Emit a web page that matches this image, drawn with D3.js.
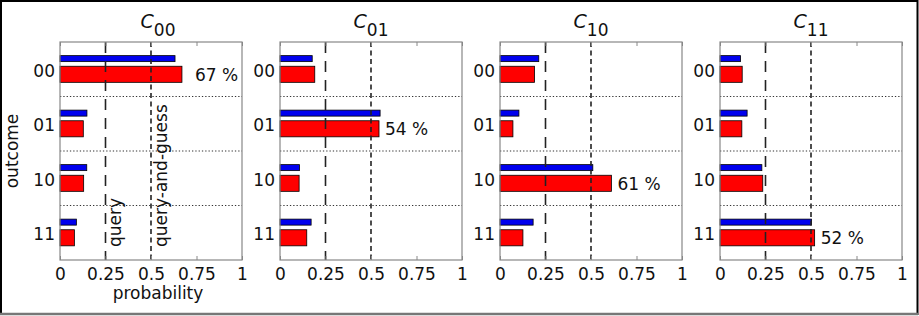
<!DOCTYPE html>
<meta charset="utf-8">
<style>

body {
  margin: 0;
  font-family: "DejaVu Sans", sans-serif;
}

.tick line {
  stroke: #888;
}

text {
  fill: #111;
}

</style>
<body>
<script src="https://d3js.org/d3.v7.js"></script>
<script>

var panels = ["00", "01", "10", "11"];

var outcomes = ["00", "01", "10", "11"];

// blue bars, one row per panel, one value per outcome
var blueValues = [
  [0.632, 0.148, 0.147, 0.090],
  [0.177, 0.550, 0.107, 0.171],
  [0.213, 0.104, 0.510, 0.182],
  [0.113, 0.149, 0.230, 0.503]
];

// red bars
var redValues = [
  [0.670, 0.128, 0.130, 0.079],
  [0.191, 0.544, 0.105, 0.147],
  [0.190, 0.071, 0.612, 0.126],
  [0.122, 0.120, 0.235, 0.520]
];

var xTicks = [0, 0.25, 0.5, 0.75, 1];

var width = 919,
    height = 316;

var plotTop = 42, plotBottom = 260, panelWidth = 182, panelStep = 220, firstLeft = 60;

var svg = d3.select("body").append("svg")
    .attr("width", width)
    .attr("height", height);

svg.append("rect")
    .attr("width", width)
    .attr("height", height)
    .attr("fill", "white");

var xScale = d3.scaleLinear()
    .domain([0, 1])
    .range([0, panelWidth]);

var yScale = d3.scaleBand()
    .domain(outcomes)
    .range([plotTop, plotBottom]);

var bw = yScale.bandwidth();

panels.forEach(function(name, p) {

  var g = svg.append("g")
      .attr("transform", `translate(${firstLeft + p * panelStep}, 0)`);

  var data = outcomes.map((o, i) => ({outcome: o, blue: blueValues[p][i], red: redValues[p][i]}));

  // first panel's title and label sit a little right of centre in the original
  var shift = p === 0 ? 7 : 0;

  // bars
  g.selectAll(".blue")
      .data(data)
    .enter().append("rect")
      .attr("x", 0)
      .attr("y", d => yScale(d.outcome) + bw * 0.25)
      .attr("width", d => xScale(d.blue))
      .attr("height", bw * 0.11)
      .attr("fill", "#0000ee")
      .attr("stroke", "#000")
      .attr("stroke-width", 0.8);

  g.selectAll(".red")
      .data(data)
    .enter().append("rect")
      .attr("x", 0)
      .attr("y", d => yScale(d.outcome) + bw * 0.445)
      .attr("width", d => xScale(d.red))
      .attr("height", bw * 0.295)
      .attr("fill", "#ff0000")
      .attr("stroke", "#000")
      .attr("stroke-width", 0.8);

  // dotted separators
  g.selectAll(".sep")
      .data(outcomes.slice(1))
    .enter().append("line")
      .attr("x1", 0)
      .attr("x2", panelWidth)
      .attr("y1", d => yScale(d))
      .attr("y2", d => yScale(d))
      .attr("stroke", "#333")
      .attr("stroke-width", 1.2)
      .attr("stroke-dasharray", "1.3,2");

  // reference lines
  g.append("line")
      .attr("x1", xScale(0.25)).attr("x2", xScale(0.25))
      .attr("y1", plotTop).attr("y2", plotBottom)
      .attr("stroke", "#222")
      .attr("stroke-width", 1.6)
      .attr("stroke-dasharray", "11,8");

  g.append("line")
      .attr("x1", xScale(0.5)).attr("x2", xScale(0.5))
      .attr("y1", plotTop).attr("y2", plotBottom)
      .attr("stroke", "#222")
      .attr("stroke-width", 1.6)
      .attr("stroke-dasharray", "5,3.5");

  // axes
  var xAxis = d3.axisBottom(xScale)
      .tickValues(xTicks)
      .tickSize(-4)
      .tickPadding(8)
      .tickFormat(d => String(d));

  g.append("g")
      .attr("transform", `translate(0, ${plotBottom})`)
      .call(xAxis)
      .call(a => a.select(".domain").remove())
      .selectAll("text")
      .attr("font-size", 17)
      .attr("font-family", "DejaVu Sans")
      .attr("fill", "#111");

  g.append("g")
      .attr("transform", `translate(0, ${plotTop})`)
      .call(d3.axisTop(xScale).tickValues(xTicks).tickSize(-4).tickFormat(""))
      .call(a => a.select(".domain").remove());

  var yAxis = d3.axisLeft(yScale)
      .tickSize(0)
      .tickPadding(5);

  g.append("g")
      .call(yAxis)
      .call(a => a.select(".domain").remove())
      .selectAll("text")
      .attr("font-size", 17)
      .attr("font-family", "DejaVu Sans")
      .attr("fill", "#111")
      .attr("dy", "0.45em");

  g.append("rect")
      .attr("x", 0)
      .attr("y", plotTop)
      .attr("width", panelWidth)
      .attr("height", plotBottom - plotTop)
      .attr("fill", "none")
      .attr("stroke", "#888")
      .attr("stroke-width", 1.2);

  // percentage label on the largest red bar
  var best = data.reduce((a, b) => (b.red > a.red ? b : a));
  g.append("text")
      .attr("x", xScale(best.red) + 6 + shift)
      .attr("y", yScale(best.outcome) + bw * 0.6 + 6)
      .attr("font-size", 17)
      .text(Math.round(best.red * 100) + " %");

  // title C_xx
  var title = g.append("text")
      .attr("x", panelWidth / 2 + shift)
      .attr("y", 28)
      .attr("text-anchor", "middle");
  title.append("tspan")
      .attr("font-style", "italic")
      .attr("font-size", 19)
      .text("C");
  title.append("tspan")
      .attr("font-size", 17)
      .attr("dy", 8)
      .text(name);

  if (p === 0) {
    g.append("text")
        .attr("x", panelWidth / 2 + shift)
        .attr("y", 299)
        .attr("text-anchor", "middle")
        .attr("font-size", 17)
        .text("probability");

    g.append("text")
        .attr("transform", `translate(${18 - firstLeft}, ${(plotTop + plotBottom) / 2}) rotate(-90)`)
        .attr("text-anchor", "middle")
        .attr("font-size", 17)
        .text("outcome");

    g.append("text")
        .attr("transform", `translate(${xScale(0.25) + 15}, 247) rotate(-90)`)
        .attr("font-size", 17)
        .text("query");

    g.append("text")
        .attr("transform", `translate(${xScale(0.5) + 15.5}, 247) rotate(-90)`)
        .attr("font-size", 17)
        .text("query-and-guess");
  }
});

// frame
svg.append("rect")
    .attr("x", 1)
    .attr("y", 1)
    .attr("width", 916.5)
    .attr("height", 313)
    .attr("fill", "none")
    .attr("stroke", "#000")
    .attr("stroke-width", 2);

svg.append("line")
    .attr("x1", 0).attr("x2", 918)
    .attr("y1", 314).attr("y2", 314)
    .attr("stroke", "#777")
    .attr("stroke-width", 2.5);

</script>
